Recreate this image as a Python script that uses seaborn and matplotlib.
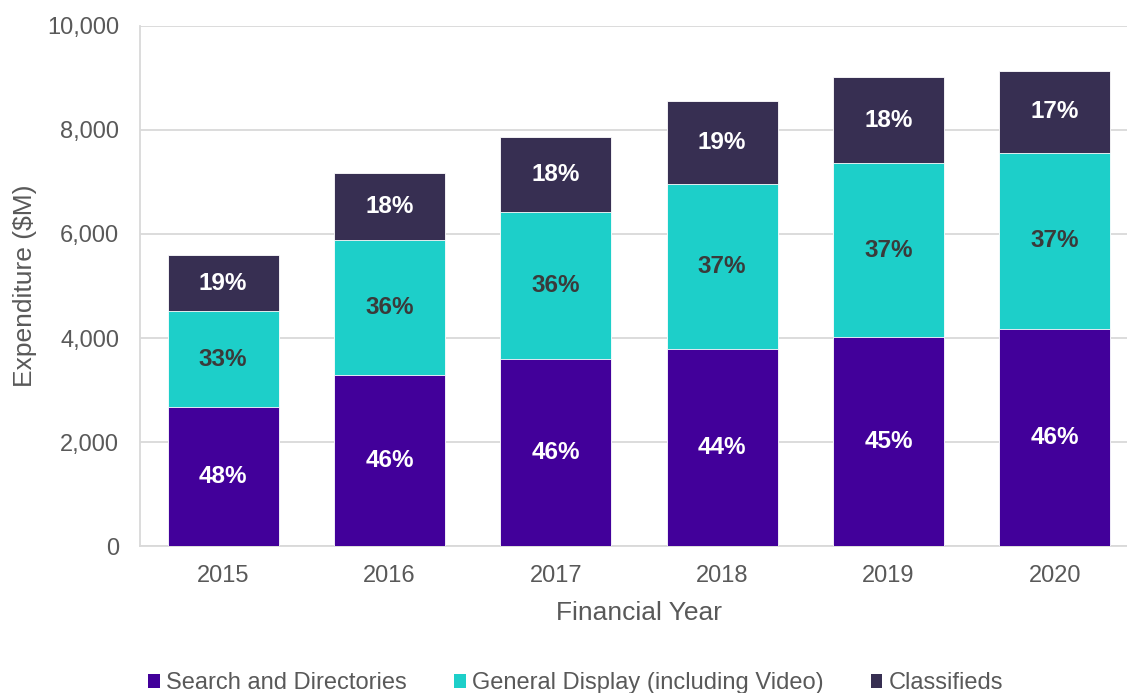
import matplotlib.pyplot as plt
import numpy as np
import seaborn as sns
from matplotlib.patches import Patch
from matplotlib.ticker import FuncFormatter

years = ["2015", "2016", "2017", "2018", "2019", "2020"]
search = [2673, 3288, 3596, 3788, 4019, 4173]
display = [1846, 2597, 2827, 3174, 3346, 3385]
classifieds = [1077, 1288, 1442, 1596, 1654, 1577]

search_pct = ["48%", "46%", "46%", "44%", "45%", "46%"]
display_pct = ["33%", "36%", "36%", "37%", "37%", "37%"]
classifieds_pct = ["19%", "18%", "18%", "19%", "18%", "17%"]

series_names = ["Search and Directories", "General Display (including Video)", "Classifieds"]
colors = ["#42009A", "#1DCFC9", "#372F52"]
TEXT = "#595959"
GRID = "#D9D9D9"

sns.set_theme(style="white")
plt.rcParams["font.family"] = ["Liberation Sans", "DejaVu Sans"]

fig = plt.figure(figsize=(11.27, 6.93), dpi=100)
ax = fig.add_axes([0.1242, 0.2121, 0.8855, 0.7504])

s = np.array(search)
d = np.array(display)
c = np.array(classifieds)
bottoms = [np.zeros_like(s), s, s + d]
tops = [s, s + d, s + d + c]

# draw cumulative stacks, tallest first, so each layer covers the one behind
for top, col in zip(tops[::-1], colors[::-1]):
    sns.barplot(x=years, y=top, color=col, width=0.667, ax=ax,
                saturation=1, edgecolor="white", linewidth=0.6, zorder=3)

label_colors = ["white", "#3A3A3A", "white"]
for labels, bot, top, lc in zip([search_pct, display_pct, classifieds_pct],
                                bottoms, tops, label_colors):
    for i, lab in enumerate(labels):
        ax.text(i, (bot[i] + top[i]) / 2, lab, ha="center", va="center",
                color=lc, fontsize=17.5, fontweight="bold", zorder=5)

ax.set_xlim(-0.5, 5.5)
ax.set_ylim(0, 10000)
ax.set_yticks(range(0, 10001, 2000))
ax.yaxis.set_major_formatter(FuncFormatter(lambda v, p: f"{int(v):,}"))
ax.grid(axis="y", color=GRID, linewidth=1.3, zorder=0)
ax.set_axisbelow(True)
for side in ["top", "right"]:
    ax.spines[side].set_visible(False)
for side in ["left", "bottom"]:
    ax.spines[side].set_color(GRID)
    ax.spines[side].set_linewidth(1.3)
ax.tick_params(axis="both", length=0, labelsize=17, colors=TEXT)
ax.tick_params(axis="y", pad=15)
ax.tick_params(axis="x", pad=14)
ax.set_xlabel("Financial Year", fontsize=19, color=TEXT, labelpad=10)
ax.set_ylabel("Expenditure ($M)", fontsize=19, color=TEXT, labelpad=7)

handles = [Patch(facecolor=col, edgecolor="none") for col in colors]
fig.legend(handles, series_names, loc="center", bbox_to_anchor=(0.5107, 0.014),
           ncol=3, frameon=False, fontsize=17, labelcolor=TEXT,
           handlelength=0.5, handleheight=0.5, handletextpad=0.25,
           columnspacing=2.0)

fig.savefig("out.png", dpi=100)
